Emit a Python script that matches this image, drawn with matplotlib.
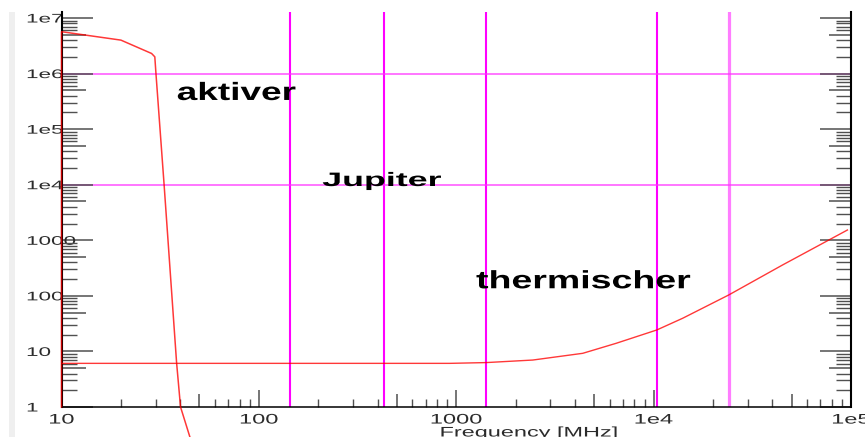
import matplotlib
matplotlib.use("Agg")
import matplotlib.pyplot as plt
import matplotlib.patheffects as pe
from matplotlib.transforms import Affine2D
from matplotlib.patches import Rectangle
from matplotlib.ticker import NullFormatter

# ---------------- data ----------------
aktiv_freq = [10, 10, 20, 28.6, 29.7, 30.1, 33.1, 38.3, 40.1, 44.7, 46.4]
aktiv_temp = [1, 5.67e6, 4.0e6, 2.3e6, 2.0e6, 1.0e6, 1.0e4, 6.2, 1.0, 0.29, 0.17]

therm_freq = [10, 100, 925, 1420, 2443, 4375, 6457, 10368, 14030, 24048, 44970, 95900]
therm_temp = [6.1, 6.1, 6.1, 6.3, 7.0, 9.25, 14.0, 24.3, 39.5, 104, 359, 1531]

band_freqs = [144, 432, 1420, 10368, 24048]
level_temps = [1e6, 1e4]

y_major = [1, 10, 100, 1000, 1e4, 1e5, 1e6, 1e7]
y_major_labels = ["1", "10", "100", "1000", "1e4", "1e5", "1e6", "1e7"]
x_major = [10, 100, 1000, 1e4, 1e5]
x_major_labels = ["10", "100", "1000", "1e4", "1e5"]
minor_mult = [2, 3, 4, 6, 7, 8, 9]
mid_mult = 5

labels = [("aktiver", 38.5, 3.35e5, 18, 1.48),
          ("Jupiter", 210, 9480, 14, 1.84),
          ("thermischer", 1262, 137, 18, 1.50)]


class HStretch(pe.AbstractPathEffect):
    """Stretch rendered text horizontally (the reference image is wide)."""
    def __init__(self, sx, anchor="left"):
        super().__init__()
        self._sx = sx
        self._anchor = anchor

    def draw_path(self, renderer, gc, tpath, affine, rgbFace=None):
        if len(tpath.vertices) == 0:
            return
        bb = tpath.transformed(affine).get_extents()
        if self._anchor == "left":
            x0 = bb.x0
        elif self._anchor == "right":
            x0 = bb.x1
        else:
            x0 = 0.5 * (bb.x0 + bb.x1)
        st = affine + Affine2D().translate(-x0, 0).scale(self._sx, 1.0).translate(x0, 0)
        renderer.draw_path(gc, tpath, st, rgbFace)


plt.rcParams["font.family"] = ["Liberation Sans", "DejaVu Sans"]

W, H = 865, 437
fig = plt.figure(figsize=(W / 100, H / 100), dpi=100)
fig.patches.append(Rectangle((9 / W, 0), 6 / W, 425 / H, transform=fig.transFigure,
                             facecolor="#efefef", edgecolor="none", zorder=0))
ax = fig.add_axes([61.5 / W, 30 / H, (851 - 61.5) / W, (407 - 12) / H])
ax.set_xscale("log")
ax.set_yscale("log")
ax.set_xlim(10, 1e5)
ax.set_ylim(1, 10 ** (7 + 6 / 55.57))

# magenta reference lines
for i, f in enumerate(band_freqs):
    if i < len(band_freqs) - 1:
        ax.axvline(f, color="#ff00ff", lw=1.5, zorder=1.5)
    else:
        ax.axvline(f, color="#ff66ff", lw=2.3, alpha=0.85, zorder=1.5)
for t in level_temps:
    ax.axhline(t, color="#ff33ff", lw=1.1, alpha=0.85, zorder=1.5)

# curves
ax.plot(aktiv_freq, aktiv_temp, color="red", alpha=0.78, lw=1.1, zorder=3, clip_on=False)
ax.plot(therm_freq, therm_temp, color="red", alpha=0.78, lw=1.0, zorder=3)

# annotations
for txt, xv, yv, fs, sx in labels:
    ax.text(xv, yv, txt, fontsize=fs, fontweight="bold", ha="left", va="baseline",
            color="black", zorder=4, path_effects=[HStretch(sx, "left")])

# spines
ax.spines["top"].set_visible(False)
ax.spines["left"].set_linewidth(1.5)
ax.spines["right"].set_linewidth(1.5)
ax.spines["bottom"].set_linewidth(1.1)
for s in ax.spines.values():
    s.set_color("black")

# ticks
tick_col = "#505050"
ax.tick_params(axis="y", which="major", direction="in", left=True, right=True,
               length=22, width=1.1, color=tick_col, pad=25, labelsize=9,
               labelcolor="#2b2b2b")
ax.tick_params(axis="y", which="minor", direction="in", left=True, right=True,
               length=11, width=1.0, color=tick_col)
ax.tick_params(axis="x", which="major", direction="in", bottom=True, top=False,
               length=12.5, width=1.1, color=tick_col, pad=4, labelsize=10,
               labelcolor="#2b2b2b")
ax.tick_params(axis="x", which="minor", direction="in", bottom=True, top=False,
               length=6, width=1.0, color=tick_col)

y_mid = [mid_mult * d for d in y_major[:-1]]
y_locs = sorted(y_major + y_mid)
y_labs = [y_major_labels[y_major.index(v)] if v in y_major else "" for v in y_locs]
ax.set_yticks(y_locs, y_labs)
for tk, loc in zip(ax.yaxis.get_major_ticks(), y_locs):
    if loc in y_mid:
        tk.tick1line.set_markersize(17)
        tk.tick2line.set_markersize(16)
ax.set_yticks([m * d for d in y_major[:-1] for m in minor_mult], minor=True)

x_mid = [mid_mult * d for d in x_major[:-1]]
x_locs = sorted(x_major + x_mid)
x_labs = [x_major_labels[x_major.index(v)] if v in x_major else "" for v in x_locs]
ax.set_xticks(x_locs, x_labs)
for tk, loc in zip(ax.xaxis.get_major_ticks(), x_locs):
    if loc in x_mid:
        tk.tick1line.set_markersize(9.5)
ax.set_xticks([m * d for d in x_major[:-1] for m in minor_mult], minor=True)
ax.yaxis.set_minor_formatter(NullFormatter())
ax.xaxis.set_minor_formatter(NullFormatter())

for lab in ax.get_yticklabels():
    lab.set_horizontalalignment("left")
    lab.set_path_effects([HStretch(1.8, "left")])
for lab in ax.get_xticklabels():
    lab.set_path_effects([HStretch(1.7, "center")])

fig.text(529 / W, 0.5 / H, "Frequency [MHz]", ha="center", va="baseline",
         fontsize=10, color="#2b2b2b", path_effects=[HStretch(1.69, "center")])

fig.savefig("out.png", dpi=100)
